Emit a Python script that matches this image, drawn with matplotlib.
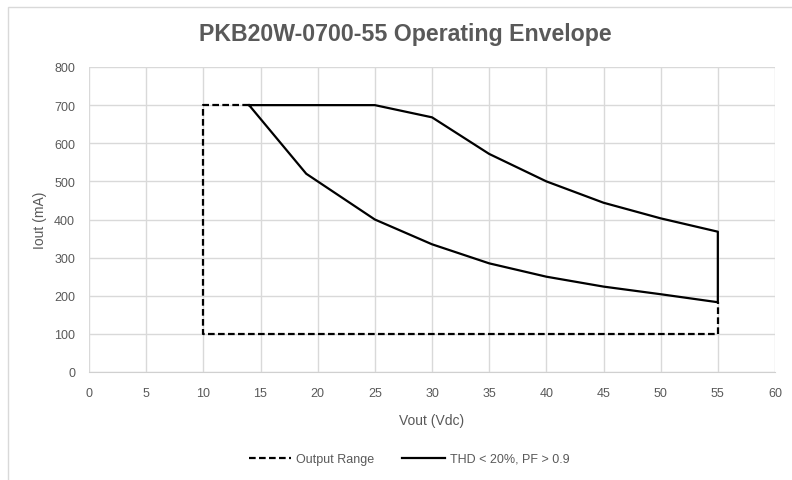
import matplotlib.pyplot as plt
from matplotlib.patches import Rectangle

# Output range (dashed) outline
range_v = [14, 10, 10, 55, 55]
range_i = [700, 700, 100, 100, 183]

# THD < 20%, PF > 0.9 envelope (solid)
thd_v = [14, 19, 20, 25, 30, 35, 40, 45, 50, 55, 55, 50, 45, 40, 35, 30, 25, 14]
thd_i = [700, 520, 500, 400, 335, 285, 250, 224, 204, 183,
         368, 403, 444, 500, 572, 668, 700, 700]

x_ticks = list(range(0, 61, 5))
y_ticks = list(range(0, 801, 100))

grey = '#595959'
plt.rcParams['font.family'] = ['Liberation Sans', 'DejaVu Sans']

fig = plt.figure(figsize=(7.92, 4.81), dpi=100)
fig.patches.append(Rectangle((8 / 792, -0.1), 1.0, 1 - 8 / 481 + 0.1,
                             transform=fig.transFigure, fill=False,
                             edgecolor='#d9d9d9', linewidth=1))
ax = fig.add_axes([89 / 792, 1 - 373 / 481, (775 - 89) / 792, (373 - 68) / 481])

ax.plot(range_v, range_i, color='black', linestyle=(0, (3, 1.5)), linewidth=1.6,
        label='Output Range', zorder=3)
ax.plot(thd_v, thd_i, color='black', linewidth=1.6,
        label='THD < 20%, PF > 0.9', zorder=4)

ax.set_xlim(0, 60)
ax.set_ylim(0, 800)
ax.set_xticks(x_ticks)
ax.set_yticks(y_ticks)
ax.grid(True, color='#d9d9d9', linewidth=1)
ax.set_axisbelow(True)
for side in ['top', 'right', 'left']:
    ax.spines[side].set_visible(False)
ax.spines['bottom'].set_color('#d0d0d0')
ax.tick_params(length=0, labelsize=9, colors=grey)
ax.tick_params(axis='x', pad=11)
ax.tick_params(axis='y', pad=10)

ax.set_xlabel('Vout (Vdc)', fontsize=10, color=grey, va='center')
ax.set_ylabel('Iout (mA)', fontsize=10, color=grey, va='center')
ax.xaxis.set_label_coords(0.5, (373 - 421) / 305)
ax.yaxis.set_label_coords((40 - 89) / 686, 0.5)
fig.text(405 / 792, 1 - 34 / 481, 'PKB20W-0700-55 Operating Envelope', ha='center', va='center',
         fontsize=16.7, fontweight='bold', color=grey)

fig.legend(loc='center', bbox_to_anchor=(409 / 792, 1 - 460 / 481), ncol=2, frameon=False,
           fontsize=9, labelcolor=grey, handlelength=3.4, handletextpad=0.4,
           columnspacing=2.2)

fig.savefig('out.png', dpi=100)
